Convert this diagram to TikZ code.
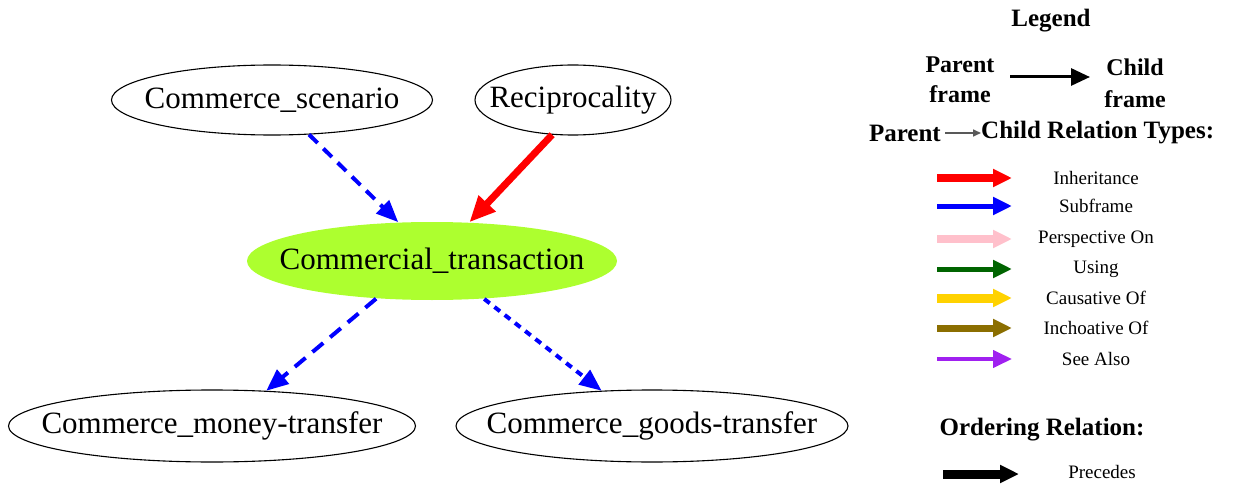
\documentclass[tikz,border=0pt]{standalone}
\usepackage{fontspec}
\setmainfont{Liberation Serif}
\usetikzlibrary{shapes.geometric,arrows.meta}
\definecolor{inhred}{RGB}{255,0,0}
\definecolor{subblue}{RGB}{0,0,255}
\definecolor{perspink}{RGB}{255,192,203}
\definecolor{usegreen}{RGB}{0,100,0}
\definecolor{causgold}{RGB}{255,210,0}
\definecolor{inchbrown}{RGB}{139,110,0}
\definecolor{seepurple}{RGB}{160,32,240}
\definecolor{focusgreen}{RGB}{173,255,47}
\newcommand{\fname}[1]{\makebox[0pt][c]{#1}}
\tikzset{
  framenode/.style={ellipse, draw, line width=1.1pt, inner sep=0pt,
    font=\fontsize{31}{36}\selectfont},
  bluelink/.style={subblue, line width=4pt,
    -{Triangle[length=22pt,width=18pt]}},
  redlink/.style={inhred, line width=7pt,
    -{Triangle[length=26pt,width=22pt]}},
  legtitle/.style={font=\bfseries\fontsize{25}{30}\selectfont, inner sep=0pt},
  leglabel/.style={font=\fontsize{19}{22}\selectfont, inner sep=0pt},
  legarrow/.style={-{Triangle[length=19pt,width=17pt]}},
}
\begin{document}
\begin{tikzpicture}[x=1pt,y=-1pt]
\useasboundingbox (0,0) rectangle (1237,484);

% frames
\node[framenode, minimum width=321pt, minimum height=70pt] (cs) at (272,100) {\fname{Commerce\_scenario}};
\node[framenode, minimum width=196pt, minimum height=70pt] (rec) at (573,100) {\fname{Reciprocality}};
\node[framenode, draw=none, fill=focusgreen, minimum width=370pt, minimum height=78pt] (ct) at (432,261) {\fname{Commercial\_transaction}};
\node[framenode, minimum width=407pt, minimum height=72pt] (mt) at (212,426) {\fname{Commerce\_money-transfer}};
\node[framenode, minimum width=392pt, minimum height=72pt] (gt) at (652,426) {\fname{Commerce\_goods-transfer}};

% relations
\draw[bluelink, dash pattern=on 12pt off 8pt] (cs.-43) -- (ct.131);
\draw[redlink] (rec.-121) -- (ct.46);
\draw[bluelink, dash pattern=on 14pt off 9pt] (ct.-146) -- (mt.33);
\draw[bluelink, dash pattern=on 7pt off 6pt] (ct.-36) -- (gt.145);

% legend
\node[legtitle] (legend) at (1051,21) {Legend};
\node[legtitle, align=center, font=\bfseries\fontsize{24}{30}\selectfont] (pf) at (960,80) {Parent\\frame};
\node[legtitle, align=center, font=\bfseries\fontsize{24}{32}\selectfont] (cf) at (1135,83) {Child\\frame};
\coordinate (pfa) at (1010,77);
\coordinate (pfb) at (1090,77);
\draw[line width=3pt, legarrow] (pfa) -- (pfb);

\node[legtitle, anchor=east] (rtp) at (941,133) {Parent};
\node[legtitle, anchor=west] (rtc) at (981,133) {Child Relation Types:};
\coordinate (rta) at (945,133);
\draw[gray!70!black, line width=1.6pt, -{Triangle[length=8pt,width=7pt]}] (rta) -- (rtc.west);

\foreach \y/\c/\w/\t in {178/inhred/8/Inheritance, 206/subblue/5/Subframe,
    239/perspink/8/Perspective On, 269/usegreen/5/Using,
    298/causgold/9/Causative Of, 328/inchbrown/7/Inchoative Of,
    359/seepurple/4/See Also}{
  \coordinate (la) at (937,\y);
  \coordinate (lb) at (1012,\y);
  \draw[\c, line width=\w pt, legarrow] (la) -- (lb);
  \node[leglabel] at (1096,\y) {\t};
}

\node[legtitle] (ord) at (1042,430) {Ordering Relation:};
\coordinate (pa) at (943,474);
\coordinate (pb) at (1019,474);
\draw[black, line width=9pt, legarrow] (pa) -- (pb);
\node[leglabel] (prec) at (1102,472) {Precedes};
\end{tikzpicture}
\end{document}
